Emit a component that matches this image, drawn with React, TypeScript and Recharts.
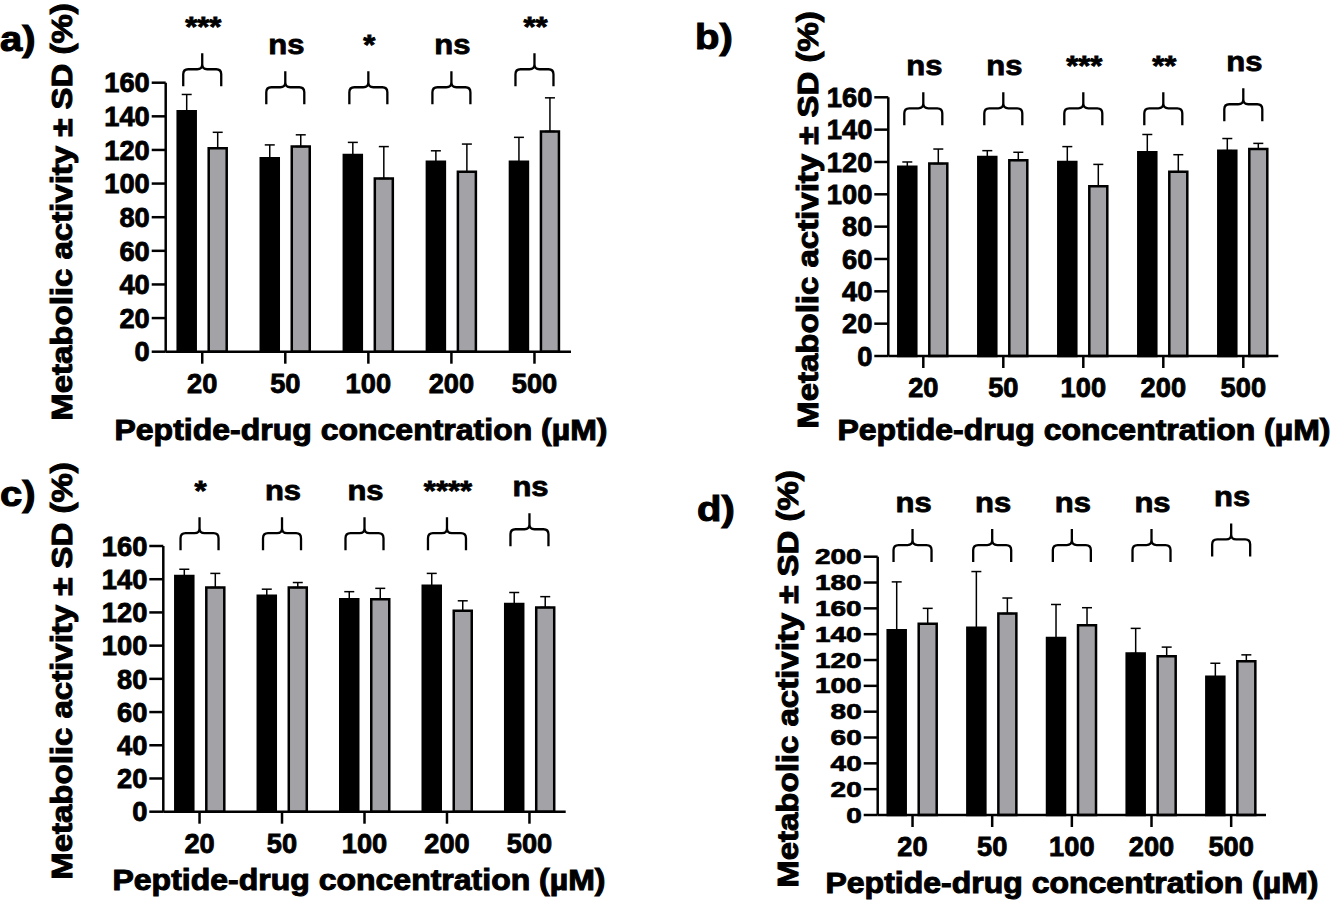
import React from 'react'
import { BarChart, Bar, XAxis, YAxis, ErrorBar, ReferenceDot } from 'recharts'

const FONT = "'Liberation Sans', Arial, sans-serif"

const concentrations = ['20', '50', '100', '200', '500']
const ticks160 = [0, 20, 40, 60, 80, 100, 120, 140, 160]
const ticks200 = [0, 20, 40, 60, 80, 100, 120, 140, 160, 180, 200]

// a)
const aBlack = [143, 115, 117, 113, 113]
const aBlackSD = [10, 8, 7.5, 6.5, 14.5]
const aGrey = [121, 122, 103, 107, 131]
const aGreySD = [9.5, 7, 19, 16.5, 20]
const aSig = ['***', 'ns', '*', 'ns', '**']
const aBracket = [168, 157.3, 157.3, 157.3, 168]

// b)
const bBlack = [117, 123, 120, 126, 127]
const bBlackSD = [3, 4, 9.5, 11, 7.5]
const bGrey = [119, 121, 105, 114, 128]
const bGreySD = [9, 5, 13.5, 10.5, 3.5]
const bSig = ['ns', 'ns', '***', '**', 'ns']
const bBracket = [153.2, 153.2, 153.2, 153.2, 155.7]

// c)
const cBlack = [142, 130, 128, 136, 125]
const cBlackSD = [4, 4, 4.5, 7.5, 7]
const cGrey = [135, 135, 128, 121, 123]
const cGreySD = [8.5, 3, 6.5, 6, 6.5]
const cSig = ['*', 'ns', 'ns', '****', 'ns']
const cBracket = [167.7, 167.7, 167.7, 167.7, 170.1]

// d)
const dBlack = [143, 145, 137, 125, 107]
const dBlackSD = [37.5, 43.5, 26, 19.5, 10.5]
const dGrey = [148, 156, 147, 123, 119]
const dGreySD = [12, 12, 13.5, 7, 5]
const dSig = ['ns', 'ns', 'ns', 'ns', 'ns']
const dBracket = [209, 209, 209, 209, 213.4]

const GREY = '#a3a3a7'

function Txt({ x, y, size, children, anchor = 'middle', sx = 1, sy = 1, rotate = 0, dy, sw = 0.9 }: any) {
  return (
    <g transform={`translate(${x},${y}) rotate(${rotate}) scale(${sx},${sy})`}>
      <text
        x={0}
        y={0}
        dy={dy}
        textAnchor={anchor}
        fontFamily={FONT}
        fontWeight="bold"
        fontSize={size}
        fill="#000"
        stroke="#000"
        strokeWidth={sw}
      >
        {children}
      </text>
    </g>
  )
}

function Bracket({ cx, cy, text }: any) {
  const w = 19
  const up = 16
  const down = 17
  const r = 5
  const d =
    `M${cx - w},${cy + down} L${cx - w},${cy + r} Q${cx - w},${cy} ${cx - w + r},${cy} L${cx - r},${cy} ` +
    `Q${cx},${cy} ${cx},${cy - r} L${cx},${cy - up} M${cx},${cy - r} Q${cx},${cy} ${cx + r},${cy} ` +
    `L${cx + w - r},${cy} Q${cx + w},${cy} ${cx + w},${cy + r} L${cx + w},${cy + down}`
  return (
    <g>
      <path d={d} fill="none" stroke="#000" strokeWidth={2.3} />
      <Txt x={cx + 1} y={cy - up - 17} size={31} sy={0.9}>
        {text}
      </Txt>
    </g>
  )
}

function Panel({ box, black, blackSD, grey, greySD, sig, bracket, ticks, yTick }: any) {
  const rows = concentrations.map((c, i) => ({
    conc: c,
    black: black[i],
    grey: grey[i],
    blackErr: [0, blackSD[i]],
    greyErr: [0, greySD[i]],
  }))
  const axisW = 100
  const axisH = 60
  const margin = {
    left: box.plotL - axisW,
    right: box.w - box.plotR,
    top: box.plotT,
    bottom: box.h - box.plotB - axisH,
  }
  const line = { stroke: '#000', strokeWidth: 2.5 }
  return (
    <div style={{ position: 'absolute', left: box.left, top: box.top }}>
      <BarChart width={box.w} height={box.h} data={rows} margin={margin} barSize={18} barGap={13}>
        <XAxis
          dataKey="conc"
          height={axisH}
          interval={0}
          padding={{ left: -5, right: -5 }}
          tickSize={12}
          tickMargin={10}
          axisLine={line}
          tickLine={line}
          tick={({ x, y, payload }: any) => (
            <Txt x={x} y={y} size={29} dy="0.71em" sx={0.94} sy={0.93}>
              {payload.value}
            </Txt>
          )}
        />
        <YAxis
          type="number"
          width={axisW}
          domain={[0, ticks[ticks.length - 1]]}
          ticks={ticks}
          interval={0}
          tickSize={14}
          tickMargin={2}
          axisLine={line}
          tickLine={line}
          tick={({ x, y, payload }: any) => (
            <Txt x={x} y={y} size={yTick.size} anchor="end" dy="0.355em" sx={yTick.sx} sy={yTick.sy}>
              {payload.value}
            </Txt>
          )}
        />
        <Bar dataKey="black" fill="#000" stroke="#000" strokeWidth={2.5} isAnimationActive={false}>
          <ErrorBar dataKey="blackErr" direction="y" width={5} stroke="#000" strokeWidth={1.5} />
        </Bar>
        <Bar dataKey="grey" fill={GREY} stroke="#000" strokeWidth={2.5} isAnimationActive={false}>
          <ErrorBar dataKey="greyErr" direction="y" width={5} stroke="#000" strokeWidth={1.5} />
        </Bar>
        {concentrations.map((c, i) => (
          <ReferenceDot
            key={c}
            x={c}
            y={bracket[i]}
            ifOverflow="visible"
            shape={(p: any) => <Bracket cx={p.cx} cy={p.cy} text={sig[i]} />}
          />
        ))}
      </BarChart>
    </div>
  )
}

const boxA = { left: 0, top: 0, w: 660, h: 450, plotL: 165.7, plotR: 571, plotT: 82.7, plotB: 351.7 }
const boxB = { left: 670, top: 0, w: 664, h: 450, plotL: 218.3, plotR: 608.3, plotT: 97.3, plotB: 356 }
const boxC = { left: 0, top: 460, w: 660, h: 448, plotL: 163.3, plotR: 565.7, plotT: 86, plotB: 351.7 }
const boxD = { left: 670, top: 460, w: 664, h: 448, plotL: 207.7, plotR: 596, plotT: 96.7, plotB: 355 }

const tickNormal = { size: 29, sx: 0.94, sy: 0.95 }
const tickSquat = { size: 28, sx: 1, sy: 0.76 }

const X_TITLE = 'Peptide-drug concentration (µM)'
const Y_TITLE = 'Metabolic activity ± SD (%)'

export default function App() {
  return (
    <div style={{ position: 'absolute', left: 0, top: 0, width: 1334, height: 908, background: '#fff', overflow: 'hidden' }}>
      <Panel box={boxA} black={aBlack} blackSD={aBlackSD} grey={aGrey} greySD={aGreySD} sig={aSig} bracket={aBracket} ticks={ticks160} yTick={tickNormal} />
      <Panel box={boxB} black={bBlack} blackSD={bBlackSD} grey={bGrey} greySD={bGreySD} sig={bSig} bracket={bBracket} ticks={ticks160} yTick={tickNormal} />
      <Panel box={boxC} black={cBlack} blackSD={cBlackSD} grey={cGrey} greySD={cGreySD} sig={cSig} bracket={cBracket} ticks={ticks160} yTick={tickNormal} />
      <Panel box={boxD} black={dBlack} blackSD={dBlackSD} grey={dGrey} greySD={dGreySD} sig={dSig} bracket={dBracket} ticks={ticks200} yTick={tickSquat} />
      <svg width={1334} height={908} style={{ position: 'absolute', left: 0, top: 0, pointerEvents: 'none' }}>
        <Txt x={0} y={51} size={40} anchor="start" sy={0.87} sw={1.2}>a)</Txt>
        <Txt x={695} y={49} size={40} anchor="start" sy={0.87} sw={1.2}>b)</Txt>
        <Txt x={0} y={506} size={40} anchor="start" sy={0.87} sw={1.2}>c)</Txt>
        <Txt x={697} y={521} size={40} anchor="start" sy={0.87} sw={1.2}>d)</Txt>

        <Txt x={71.7} y={212} size={33} rotate={-90} sy={0.9} sw={1.1}>{Y_TITLE}</Txt>
        <Txt x={818} y={220} size={33} rotate={-90} sy={0.9} sw={1.1}>{Y_TITLE}</Txt>
        <Txt x={71.7} y={671} size={33} rotate={-90} sy={0.9} sw={1.1}>{Y_TITLE}</Txt>
        <Txt x={798} y={679} size={33} rotate={-90} sy={0.9} sw={1.1}>{Y_TITLE}</Txt>

        <Txt x={361} y={440} size={32} sy={0.9} sw={1.1}>{X_TITLE}</Txt>
        <Txt x={1084} y={440} size={32} sy={0.9} sw={1.1}>{X_TITLE}</Txt>
        <Txt x={359} y={890} size={32} sy={0.9} sw={1.1}>{X_TITLE}</Txt>
        <Txt x={1072} y={893} size={32} sy={0.9} sw={1.1}>{X_TITLE}</Txt>
      </svg>
    </div>
  )
}
